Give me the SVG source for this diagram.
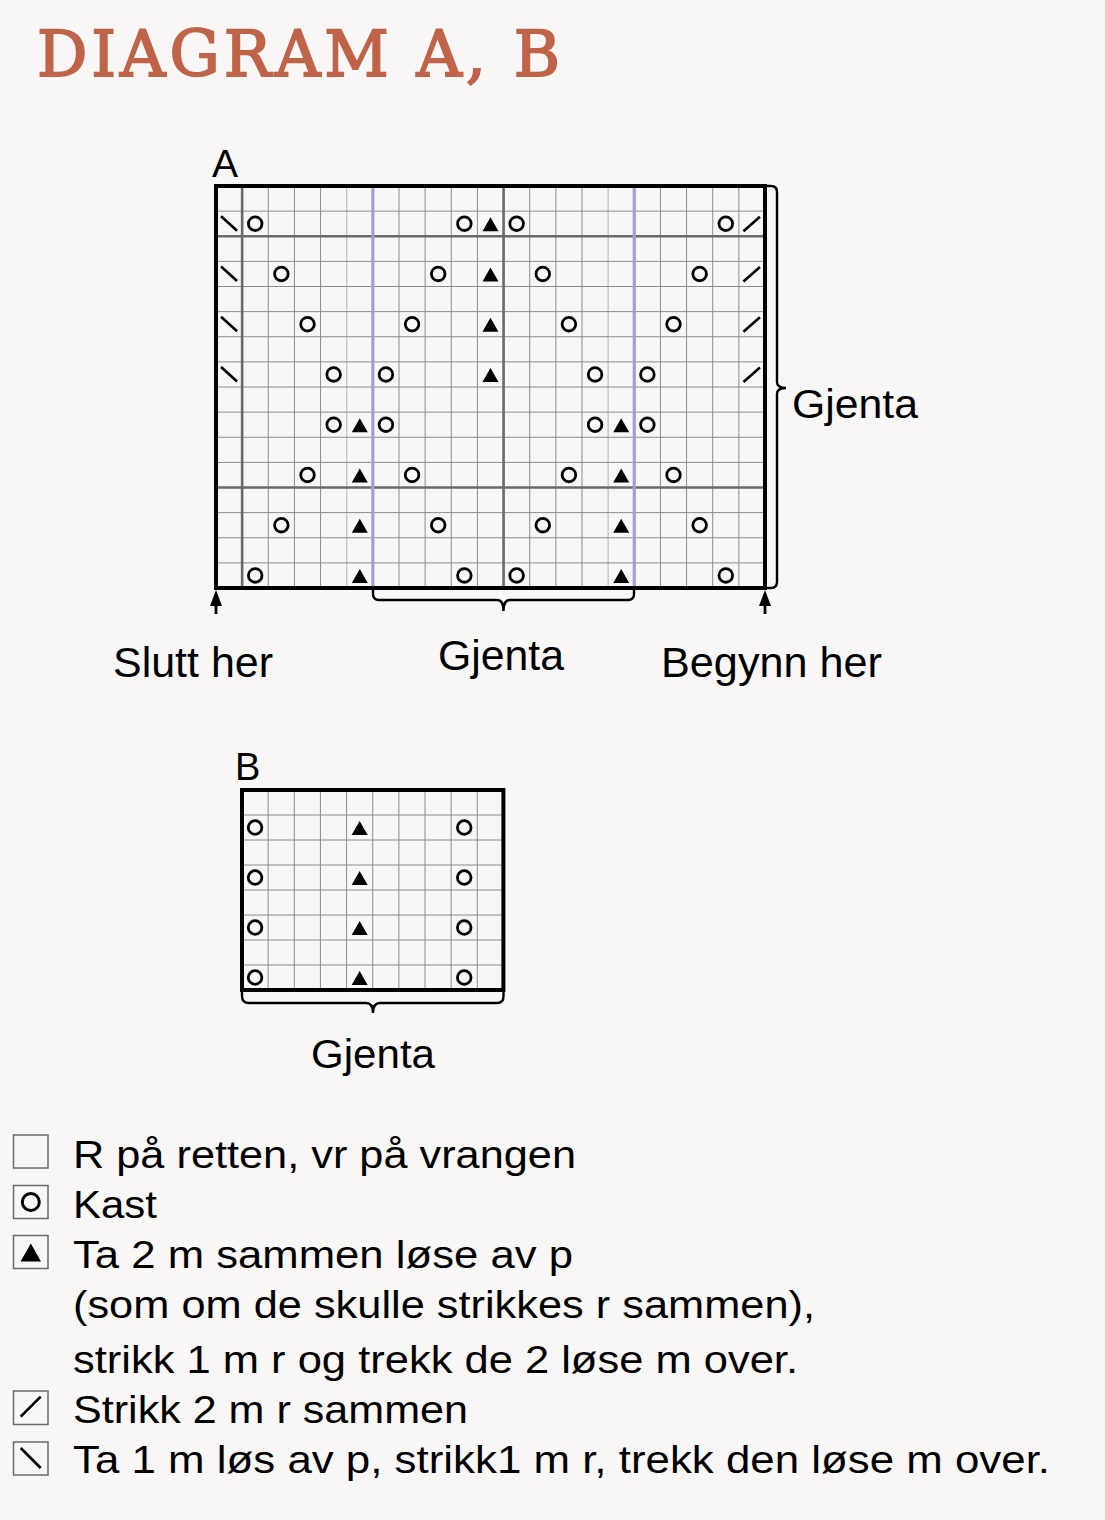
<svg xmlns="http://www.w3.org/2000/svg" width="1105" height="1520" viewBox="0 0 1105 1520">
<style>
.bg{fill:#f8f7f5}
.thin{stroke:#8c8c8c;stroke-width:1;fill:none}
.light{stroke:#bdbdbd;stroke-width:1.2;fill:none}
.dark{stroke:#6a6a6a;stroke-width:2.6;fill:none}
.purple{stroke:#a99bd4;stroke-width:3.2;fill:none}
.border{stroke:#000;stroke-width:4;fill:none}
.brace{stroke:#000;stroke-width:2.4;fill:none}
.lbl{font-family:"Liberation Sans",Arial,Helvetica,sans-serif;fill:#000}
.leg{font-family:"Liberation Sans",Arial,Helvetica,sans-serif;font-size:38px;fill:#000}
.title{font-family:"DejaVu Serif","Liberation Serif",serif;font-size:63px;fill:#bf6449;stroke:#bf6449;stroke-width:1.8}
.lbox{fill:none;stroke:#6a6a6a;stroke-width:1.5}
</style>
<defs>
<g id="o"><circle r="6.8" fill="none" stroke="#000" stroke-width="2.8"/></g>
<g id="t"><path d="M0,-6.5 L8,7.5 L-8,7.5 Z" fill="#000"/></g>
<g id="bs"><line x1="-8" y1="-7.5" x2="8" y2="7" stroke="#000" stroke-width="2.6"/></g>
<g id="fs"><line x1="-8.5" y1="7.5" x2="8" y2="-7" stroke="#000" stroke-width="2.6"/></g>
</defs>
<rect class="bg" x="0" y="0" width="1105" height="1520"/>

<g id="title">
<text class="title" x="37" y="76" textLength="523" lengthAdjust="spacing">DIAGRAM A, B</text>
</g>

<g id="chartA">
<text class="lbl" x="212" y="177" font-size="39">A</text>
<path class="thin" d="M242.14,186V588M268.29,186V588M294.43,186V588M320.57,186V588M372.86,186V588M399,186V588M425.14,186V588M451.29,186V588M477.43,186V588M503.57,186V588M529.71,186V588M555.86,186V588M582,186V588M634.29,186V588M660.43,186V588M686.57,186V588M712.71,186V588M738.86,186V588"/>
<path class="light" d="M346.71,186V588M608.14,186V588"/>
<path class="thin" d="M216,211.13H765M216,236.25H765M216,261.38H765M216,286.5H765M216,311.63H765M216,336.75H765M216,361.88H765M216,387H765M216,412.13H765M216,437.25H765M216,462.38H765M216,487.5H765M216,512.63H765M216,537.75H765M216,562.88H765"/>
<path class="dark" d="M216,236.25H765M216,487.5H765M242.14,186V588M503.57,186V588"/>
<path class="purple" d="M372.86,186V588M634.29,186V588"/>
<rect class="border" x="216" y="186" width="549" height="402"/>
<use href="#bs" x="229.07" y="223.69"/>
<use href="#o" x="255.21" y="223.69"/>
<use href="#o" x="464.36" y="223.69"/>
<use href="#t" x="490.5" y="223.69"/>
<use href="#o" x="516.64" y="223.69"/>
<use href="#o" x="725.79" y="223.69"/>
<use href="#fs" x="751.93" y="223.69"/>
<use href="#bs" x="229.07" y="273.94"/>
<use href="#o" x="281.36" y="273.94"/>
<use href="#o" x="438.21" y="273.94"/>
<use href="#t" x="490.5" y="273.94"/>
<use href="#o" x="542.79" y="273.94"/>
<use href="#o" x="699.64" y="273.94"/>
<use href="#fs" x="751.93" y="273.94"/>
<use href="#bs" x="229.07" y="324.19"/>
<use href="#o" x="307.5" y="324.19"/>
<use href="#o" x="412.07" y="324.19"/>
<use href="#t" x="490.5" y="324.19"/>
<use href="#o" x="568.93" y="324.19"/>
<use href="#o" x="673.5" y="324.19"/>
<use href="#fs" x="751.93" y="324.19"/>
<use href="#bs" x="229.07" y="374.44"/>
<use href="#o" x="333.64" y="374.44"/>
<use href="#o" x="385.93" y="374.44"/>
<use href="#t" x="490.5" y="374.44"/>
<use href="#o" x="595.07" y="374.44"/>
<use href="#o" x="647.36" y="374.44"/>
<use href="#fs" x="751.93" y="374.44"/>
<use href="#o" x="333.64" y="424.69"/>
<use href="#t" x="359.79" y="424.69"/>
<use href="#o" x="385.93" y="424.69"/>
<use href="#o" x="595.07" y="424.69"/>
<use href="#t" x="621.21" y="424.69"/>
<use href="#o" x="647.36" y="424.69"/>
<use href="#o" x="307.5" y="474.94"/>
<use href="#t" x="359.79" y="474.94"/>
<use href="#o" x="412.07" y="474.94"/>
<use href="#o" x="568.93" y="474.94"/>
<use href="#t" x="621.21" y="474.94"/>
<use href="#o" x="673.5" y="474.94"/>
<use href="#o" x="281.36" y="525.19"/>
<use href="#t" x="359.79" y="525.19"/>
<use href="#o" x="438.21" y="525.19"/>
<use href="#o" x="542.79" y="525.19"/>
<use href="#t" x="621.21" y="525.19"/>
<use href="#o" x="699.64" y="525.19"/>
<use href="#o" x="255.21" y="575.44"/>
<use href="#t" x="359.79" y="575.44"/>
<use href="#o" x="464.36" y="575.44"/>
<use href="#o" x="516.64" y="575.44"/>
<use href="#t" x="621.21" y="575.44"/>
<use href="#o" x="725.79" y="575.44"/>
</g>

<g id="labelsA">
<text class="lbl" x="792" y="418" font-size="40" textLength="126" lengthAdjust="spacingAndGlyphs">Gjenta</text>
<text class="lbl" x="113" y="677" font-size="42" textLength="160" lengthAdjust="spacingAndGlyphs">Slutt her</text>
<text class="lbl" x="438" y="670" font-size="42" textLength="126" lengthAdjust="spacingAndGlyphs">Gjenta</text>
<text class="lbl" x="661" y="677" font-size="42" textLength="221" lengthAdjust="spacingAndGlyphs">Begynn her</text>
</g>

<g id="chartB">
<text class="lbl" x="235" y="780" font-size="38">B</text>
<path class="thin" d="M268.14,790V990M294.29,790V990M320.43,790V990M346.57,790V990M372.71,790V990M398.86,790V990M425,790V990M451.14,790V990M477.29,790V990M242,815H503.4M242,840H503.4M242,865H503.4M242,890H503.4M242,915H503.4M242,940H503.4M242,965H503.4"/>
<rect class="border" x="242" y="790" width="261.4" height="200"/>
<use href="#o" x="255.07" y="827.5"/>
<use href="#t" x="359.64" y="827.5"/>
<use href="#o" x="464.21" y="827.5"/>
<use href="#o" x="255.07" y="877.5"/>
<use href="#t" x="359.64" y="877.5"/>
<use href="#o" x="464.21" y="877.5"/>
<use href="#o" x="255.07" y="927.5"/>
<use href="#t" x="359.64" y="927.5"/>
<use href="#o" x="464.21" y="927.5"/>
<use href="#o" x="255.07" y="977.5"/>
<use href="#t" x="359.64" y="977.5"/>
<use href="#o" x="464.21" y="977.5"/>
<text class="lbl" x="311" y="1068" font-size="40" textLength="124" lengthAdjust="spacingAndGlyphs">Gjenta</text>
</g>

<g id="connectors">
<path class="brace" d="M765,186H771Q777,186 777,192V382Q777,388 786,388Q777,388 777,394V582Q777,588 771,588H765"/>
<path class="brace" d="M373,590V594Q373,600 379,600H497Q503.5,600 503.5,611Q503.5,600 510,600H628Q634,600 634,594V590"/>
<path class="brace" d="M242,990V996Q242,1003 249,1003H366Q373,1003 373,1013Q373,1003 380,1003H497Q503.5,1003 503.5,996V990"/>
<path d="M216,590L210,606H222Z" fill="#000"/>
<line x1="216" y1="604" x2="216" y2="614" stroke="#000" stroke-width="2.8"/>
<path d="M765,590L759,606H771Z" fill="#000"/>
<line x1="765" y1="604" x2="765" y2="614" stroke="#000" stroke-width="2.8"/>
</g>

<g id="legend">
<rect class="lbox" x="13.5" y="1135" width="34.5" height="33"/>
<text class="leg" x="73" y="1168" textLength="503" lengthAdjust="spacingAndGlyphs">R på retten, vr på vrangen</text>
<rect class="lbox" x="13.5" y="1185.5" width="34.5" height="33"/>
<circle cx="30.8" cy="1202" r="8.5" fill="none" stroke="#000" stroke-width="3"/>
<text class="leg" x="73" y="1218" textLength="84" lengthAdjust="spacingAndGlyphs">Kast</text>
<rect class="lbox" x="13.5" y="1235.5" width="34.5" height="33"/>
<path d="M30.8,1243.5L41,1261.5H20.6Z" fill="#000"/>
<text class="leg" x="73" y="1268" textLength="500" lengthAdjust="spacingAndGlyphs">Ta 2 m sammen løse av p</text>
<text class="leg" x="73" y="1318" textLength="742" lengthAdjust="spacingAndGlyphs">(som om de skulle strikkes r sammen),</text>
<text class="leg" x="73" y="1373" textLength="725" lengthAdjust="spacingAndGlyphs">strikk 1 m r og trekk de 2 løse m over.</text>
<rect class="lbox" x="13.5" y="1391" width="34.5" height="33.5"/>
<line x1="20.7" y1="1416.7" x2="40.7" y2="1396.7" stroke="#000" stroke-width="2.6"/>
<text class="leg" x="73" y="1423" textLength="395" lengthAdjust="spacingAndGlyphs">Strikk 2 m r sammen</text>
<rect class="lbox" x="13.5" y="1442" width="34.5" height="33"/>
<line x1="20.7" y1="1448" x2="40.7" y2="1468" stroke="#000" stroke-width="2.6"/>
<text class="leg" x="73" y="1473" textLength="977" lengthAdjust="spacingAndGlyphs">Ta 1 m løs av p, strikk1 m r, trekk den løse m over.</text>
</g>
</svg>
